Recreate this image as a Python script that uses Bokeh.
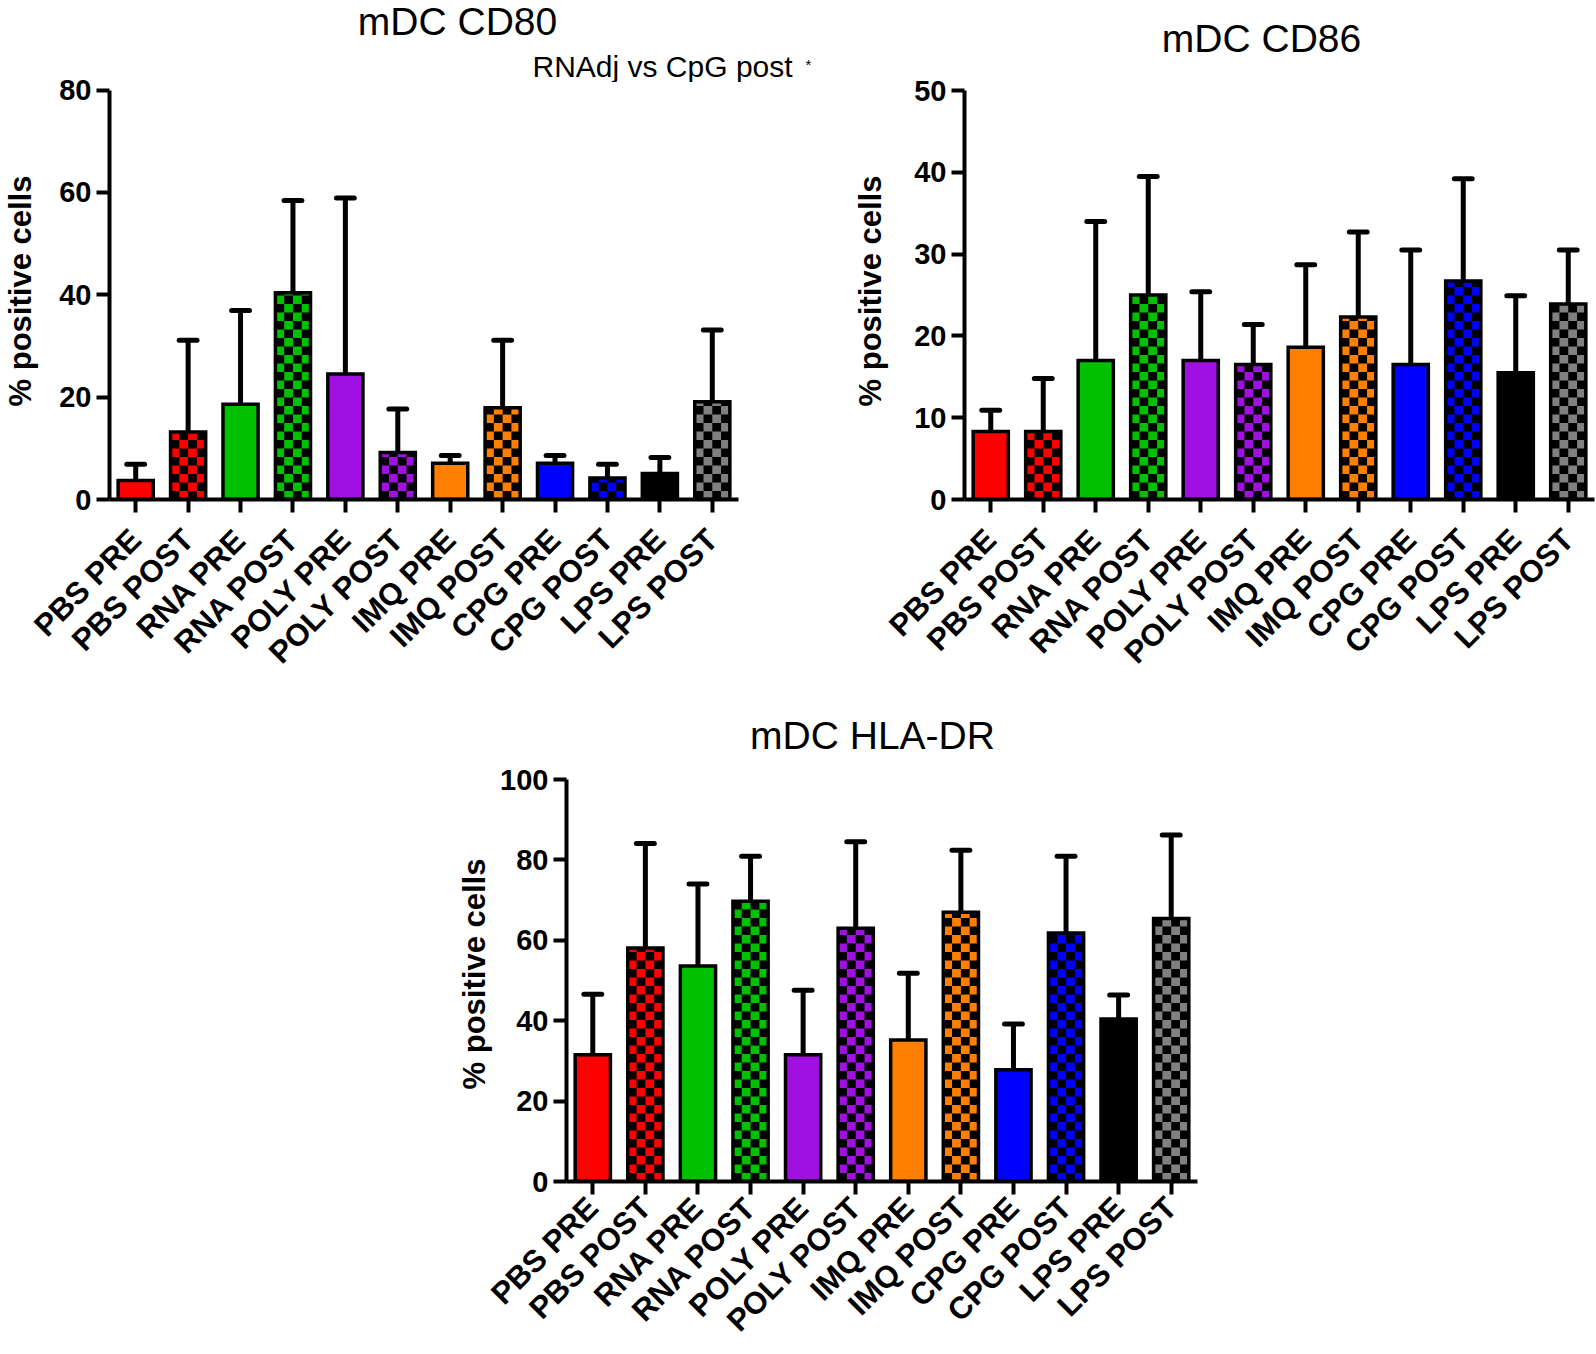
import math
from bokeh.plotting import figure
from bokeh.models import FactorRange, Range1d, FixedTicker, Label, Spacer
from bokeh.layouts import column, row
from bokeh.embed import file_html
from bokeh.resources import INLINE

# ---------------- data ----------------
categories = ["PBS PRE", "PBS POST", "RNA PRE", "RNA POST", "POLY PRE", "POLY POST",
              "IMQ PRE", "IMQ POST", "CPG PRE", "CPG POST", "LPS PRE", "LPS POST"]
bar_colors = ["#FF0000", "#FF0000", "#00C000", "#00C000", "#A010E0", "#A010E0",
              "#FF8000", "#FF8000", "#0000FF", "#0000FF", "#000000", "#808080"]
checkered = [False, True, False, True, False, True, False, True, False, True, False, True]

cd80_mean = [3.7, 13.2, 18.6, 40.4, 24.5, 9.2, 7.1, 17.9, 7.1, 4.2, 5.1, 19.1]
cd80_sd = [3.2, 17.9, 18.3, 18.0, 34.4, 8.5, 1.5, 13.2, 1.5, 2.7, 3.1, 14.0]

cd86_mean = [8.3, 8.3, 17.0, 25.0, 17.0, 16.5, 18.6, 22.3, 16.5, 26.7, 15.5, 23.9]
cd86_sd = [2.6, 6.5, 17.0, 14.5, 8.4, 4.9, 10.1, 10.4, 14.0, 12.5, 9.4, 6.6]

hla_mean = [31.5, 58.1, 53.6, 69.7, 31.5, 63.0, 35.2, 67.0, 27.8, 61.8, 40.4, 65.4]
hla_sd = [15.1, 26.0, 20.4, 11.2, 16.1, 21.5, 16.6, 15.4, 11.4, 19.1, 6.0, 20.8]

cd80_ticks = [0, 20, 40, 60, 80]
cd86_ticks = [0, 10, 20, 30, 40, 50]
hla_ticks = [0, 20, 40, 60, 80, 100]

y_label = "% positive cells"
FONT = "Liberation Sans"

# ---------------- styling / geometry ----------------
BAR_W = 0.67
CAP_HALF = 0.17
CELL_PX = 8.5


def header(width, height, texts):
    h = figure(width=width, height=height, x_range=Range1d(0, width), y_range=Range1d(height, 0),
               output_backend="svg", toolbar_location=None, x_axis_location=None,
               y_axis_location=None, min_border=0, frame_align=False)
    h.outline_line_color = None
    h.grid.visible = False
    h.background_fill_color = None
    h.border_fill_color = None
    for (txt, x, y, size, align) in texts:
        h.add_layout(Label(x=x, y=y, text=txt, text_font=FONT, text_font_size=size,
                           text_align=align, text_baseline="middle", text_color="black"))
    return h


def make_panel(means, sds, ticks, width, height, border_left, border_right, frame_top,
               tick_top_px, axis_px, label_standoff, xlabel_standoff, overlap=0):
    y_top = ticks[-1]
    ppu = (axis_px - tick_top_px) / y_top
    y_end = (axis_px - frame_top) / ppu

    p = figure(width=width, height=height, x_range=FactorRange(*categories, range_padding=0),
               y_range=Range1d(0, y_end), output_backend="svg", toolbar_location=None,
               min_border_left=border_left, min_border_right=border_right,
               min_border_top=frame_top, min_border_bottom=height - axis_px,
               frame_align=False, margin=(-overlap, 0, 0, 0))
    p.outline_line_color = None
    p.xgrid.grid_line_color = None
    p.ygrid.grid_line_color = None
    p.background_fill_color = None
    p.border_fill_color = None

    xs = [i + 0.5 for i in range(len(categories))]

    # bar fills
    p.vbar(x=categories, top=means, width=BAR_W, fill_color=bar_colors, line_color=None)

    # checker cells
    ch = CELL_PX / ppu
    cw = BAR_W / 4
    L, R, B, T = [], [], [], []
    for xc, m, chk in zip(xs, means, checkered):
        if not chk:
            continue
        left0 = xc - BAR_W / 2
        nrows = int(math.ceil(m / ch))
        for r in range(nrows):
            for c in range(4):
                if (r + c) % 2 == 0:
                    L.append(left0 + c * cw)
                    R.append(left0 + (c + 1) * cw)
                    B.append(r * ch)
                    T.append(min((r + 1) * ch, m))
    p.quad(left=L, right=R, bottom=B, top=T, fill_color="black", line_color=None)

    # bar outlines
    p.vbar(x=categories, top=means, width=BAR_W, fill_color=None, line_color="black",
           line_width=3.5, line_join="miter")

    # error bars (upper only)
    tops = [m + s for m, s in zip(means, sds)]
    p.segment(x0=xs, y0=means, x1=xs, y1=tops, line_color="black", line_width=5)
    p.segment(x0=[x - CAP_HALF for x in xs], y0=tops, x1=[x + CAP_HALF for x in xs], y1=tops,
              line_color="black", line_width=5, line_cap="round")

    # axes
    for ax in (p.xaxis[0], p.yaxis[0]):
        ax.axis_line_width = 4
        ax.major_tick_line_width = 4
        ax.major_tick_out = 13
        ax.major_tick_in = 0
        ax.minor_tick_line_color = None
        ax.major_label_text_font = FONT
        ax.major_label_text_font_style = "bold"
        ax.major_label_text_color = "black"
        ax.axis_line_color = "black"
        ax.major_tick_line_color = "black"
    p.xaxis.major_label_text_font_size = "31px"
    p.xaxis.major_label_orientation = math.pi / 4
    p.xaxis.major_label_standoff = xlabel_standoff
    p.yaxis.major_label_text_font_size = "29px"
    p.yaxis.ticker = FixedTicker(ticks=ticks)
    p.yaxis.bounds = (0, y_top)
    p.yaxis.major_label_standoff = 5
    p.yaxis.axis_label = y_label
    p.yaxis.axis_label_text_font = FONT
    p.yaxis.axis_label_text_font_size = "31px"
    p.yaxis.axis_label_text_font_style = "bold"
    p.yaxis.axis_label_text_color = "black"
    p.yaxis.axis_label_standoff = label_standoff
    return p


# ---- top-left: CD80 ----
h1 = header(850, 82, [("mDC CD80", 457, 21, "39px", "center"),
                      ("RNAdj vs CpG post", 532, 66, "30px", "left"),
                      ("*", 805, 64, "15px", "left")])
p1 = make_panel(cd80_mean, cd80_sd, cd80_ticks, width=850, height=630,
                border_left=108, border_right=112, frame_top=12, tick_top_px=19.5,
                axis_px=429, label_standoff=18, xlabel_standoff=22, overlap=12)

# ---- top-right: CD86 ----
h2 = header(746, 82, [("mDC CD86", 1261 - 850, 38, "39px", "center")])
p2 = make_panel(cd86_mean, cd86_sd, cd86_ticks, width=746, height=630,
                border_left=114, border_right=2, frame_top=12, tick_top_px=20,
                axis_px=429, label_standoff=23, xlabel_standoff=22, overlap=12)

# ---- bottom: HLA-DR ----
h3 = header(817, 60, [("mDC HLA-DR", 872 - 400, 35, "39px", "center")])
p3 = make_panel(hla_mean, hla_sd, hla_ticks, width=817, height=593,
                border_left=166, border_right=20, frame_top=6, tick_top_px=19,
                axis_px=421, label_standoff=5, xlabel_standoff=8)

layout = column(row(column(h1, p1), column(h2, p2)),
                row(Spacer(width=400, height=653), column(h3, p3)))

open("out.html", "w").write(file_html(layout, INLINE))
